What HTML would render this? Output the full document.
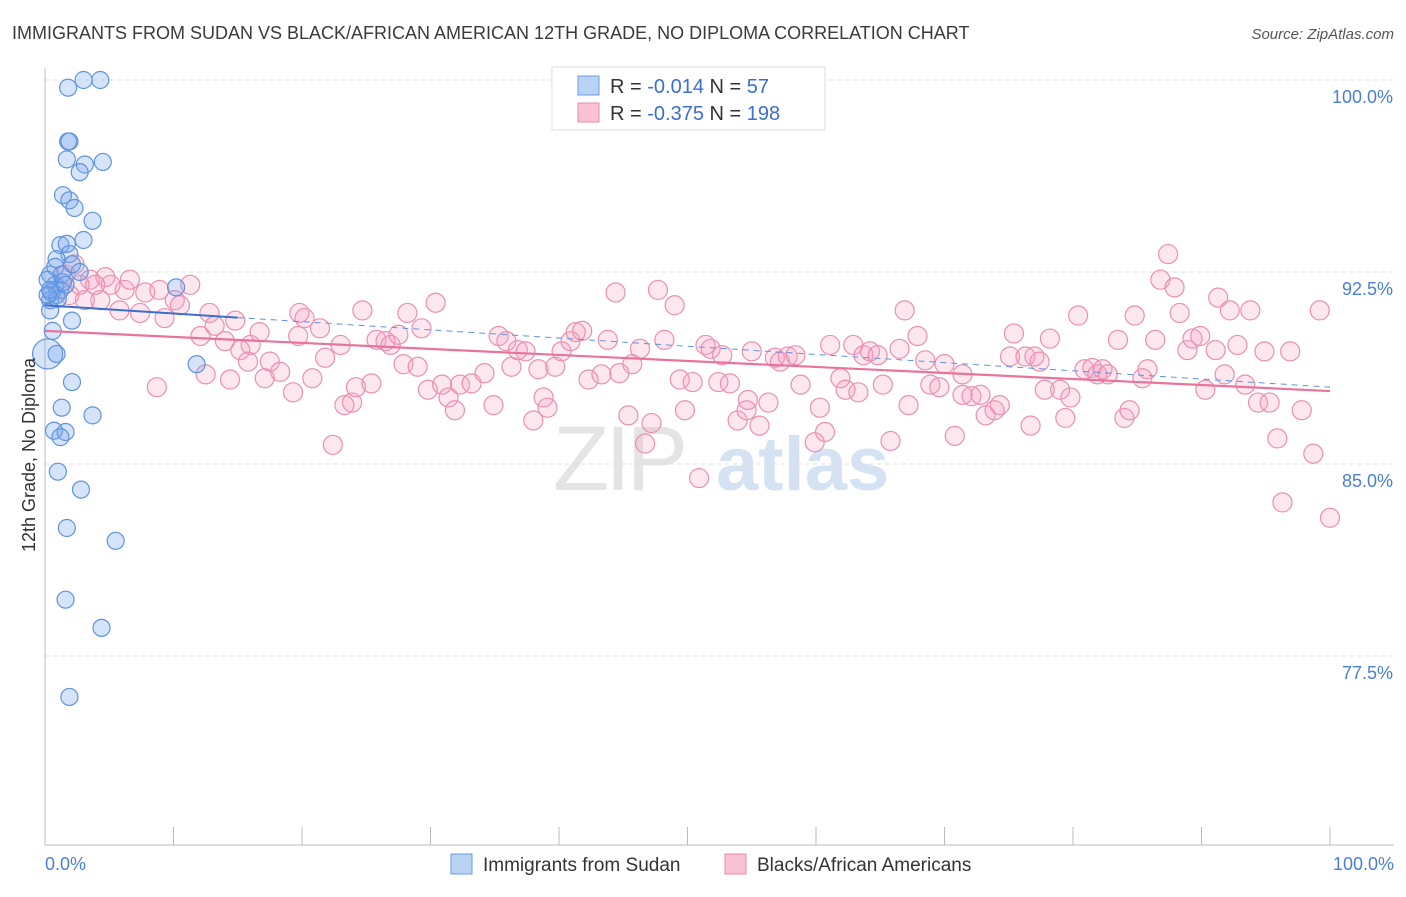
<!DOCTYPE html>
<html><head><meta charset="utf-8"><style>
body{margin:0;background:#fff;font-family:"Liberation Sans",sans-serif;}
svg text{font-family:"Liberation Sans",sans-serif;}
</style></head><body>
<svg id="chart" width="1406" height="892" viewBox="0 0 1406 892" xmlns="http://www.w3.org/2000/svg">
<text x="12" y="39" font-size="18" fill="#3a3a3a">IMMIGRANTS FROM SUDAN VS BLACK/AFRICAN AMERICAN 12TH GRADE, NO DIPLOMA CORRELATION CHART</text>
<text x="1394" y="39" font-size="15" fill="#555" text-anchor="end" font-style="italic">Source: ZipAtlas.com</text>
<g>
<text x="553" y="490" font-size="92" fill="#e4e4e4" font-family="Liberation Serif" letter-spacing="-4">ZIP</text>
<text x="716" y="490" font-size="76" fill="#d4e2f4" font-weight="bold">atlas</text>
</g>
<g id="grid"></g>
<g id="axes"></g>
<g id="marks"></g>
<g>
<rect x="552" y="67" width="273" height="63" fill="#fff" stroke="#ddd"/>
<rect x="578" y="76" width="21" height="19" fill="#b9d3f5" stroke="#6a9be0"/>
<rect x="578" y="103" width="21" height="19" fill="#f9c3d4" stroke="#e889a8"/>
<text x="610" y="93" font-size="20" fill="#333">R = <tspan fill="#3a6fd0">-0.014</tspan>   N =  <tspan fill="#3a6fd0"> 57</tspan></text>
<text x="610" y="120" font-size="20" fill="#333">R = <tspan fill="#3a6fd0">-0.375</tspan>   N = <tspan fill="#3a6fd0">198</tspan></text>
</g>
<text transform="translate(35,455) rotate(-90)" font-size="18" fill="#333" text-anchor="middle">12th Grade, No Diploma</text>
<text x="45" y="870" font-size="18" fill="#4a7fd6">0.0%</text>
<text x="1394" y="870" font-size="18" fill="#4a7fd6" text-anchor="end">100.0%</text>
<g>
<rect x="451" y="854" width="21" height="20" fill="#b9d3f5" stroke="#6a9be0"/>
<text x="483" y="871" font-size="19" fill="#333">Immigrants from Sudan</text>
<rect x="725" y="854" width="21" height="20" fill="#f9c3d4" stroke="#e889a8"/>
<text x="757" y="871" font-size="19" fill="#333">Blacks/African Americans</text>
</g>
</svg>
<script>
const yTicks=[100,92.5,85,77.5];
const yTickLabels=["100.0%","92.5%","85.0%","77.5%"];
const xTicks=[0,10,20,30,40,50,60,70,80,90,100];
const blueX=[1.8,3.0,4.3,1.8,1.9,1.7,3.1,4.5,2.7,1.4,1.9,2.3,3.7,3.0,1.2,1.7,1.9,0.9,2.1,0.4,2.7,0.8,1.2,0.4,0.9,10.2,0.4,2.1,0.6,0.2,0.9,2.1,1.3,3.7,0.7,1.6,1.2,1.0,2.8,1.7,5.5,1.6,4.4,1.9,11.8,0.5,0.2,1.4,1.0,0.2,0.8,1.3,1.6,0.4];
const blueY=[99.7,100,100,97.6,97.6,96.9,96.7,96.8,96.4,95.5,95.3,95.0,94.5,93.75,93.55,93.6,93.2,93.0,92.8,92.4,92.5,92.0,91.8,91.4,91.6,91.9,91.0,90.6,90.2,89.3,89.3,88.2,87.2,86.9,86.3,86.25,86.05,84.7,84.0,82.5,82.0,79.7,78.6,75.9,88.9,91.7,92.2,92.1,91.45,91.6,92.7,92.4,92.0,91.8];
const pinkX=[2.3,3.5,4.7,6.2,5.1,6.6,7.8,8.9,10.1,11.3,10.5,9.3,7.4,5.8,4.3,3.9,3.1,1.9,1.6,2.7,12.8,13.2,14.8,16.7,16.0,15.2,14.0,12.1,12.5,14.4,15.8,17.5,17.1,18.3,19.3,20.8,19.8,20.2,21.4,23.0,21.8,19.7,8.7,24.7,23.3,23.9,24.2,25.4,22.4,25.8,26.5,26.9,27.5,28.2,29.3,30.4,27.9,29.0,29.8,30.9,31.4,31.9,32.3,33.2,34.2,34.9,35.3,35.9,36.3,36.8,37.4,38.0,38.8,39.1,38.4,39.7,40.2,40.9,41.3,41.8,42.3,43.3,43.8,44.4,44.7,45.4,45.7,46.3,46.7,47.2,47.7,48.2,49.0,49.4,49.8,50.4,50.9,51.4,51.8,52.4,52.7,53.3,53.9,54.6,54.7,55.0,55.6,56.3,56.8,57.2,57.8,58.4,58.8,59.9,60.3,60.7,61.1,61.9,62.3,62.9,63.3,63.7,64.2,64.8,65.2,65.8,66.5,67.2,66.9,67.9,68.5,68.9,69.6,70.0,70.8,71.4,72.1,72.8,73.2,73.9,74.3,75.1,75.4,76.3,77.0,77.4,77.8,78.2,79.0,79.4,79.8,80.4,80.9,81.5,81.9,82.3,82.7,83.5,84.0,84.4,84.8,85.4,85.8,86.4,86.8,87.4,87.9,88.3,88.9,89.3,89.9,90.3,91.1,91.3,91.8,92.2,92.8,93.4,93.8,94.4,94.9,95.3,95.9,96.3,96.9,97.8,98.7,99.2,100,76.7,71.4];
const pinkY=[92.8,92.2,92.3,91.8,92.0,92.2,91.7,91.8,91.4,92.0,91.2,90.7,90.9,91.0,91.4,92.0,91.4,91.6,92.4,92.0,90.9,90.4,90.6,90.15,89.65,89.45,89.8,90.0,88.5,88.3,89.0,89.0,88.35,88.6,87.8,88.35,90.9,90.7,90.3,89.65,89.15,90.0,88.0,91.0,87.3,87.4,88.0,88.15,85.75,89.85,89.8,89.65,90.05,90.9,90.3,91.3,88.9,88.8,87.9,88.1,87.6,87.1,88.1,88.15,88.55,87.3,90.0,89.8,88.8,89.45,89.4,86.7,87.6,87.2,88.7,88.8,89.4,89.8,90.15,90.2,88.3,88.5,89.85,91.7,88.55,86.9,88.9,89.5,85.8,86.6,91.8,89.85,91.2,88.3,87.1,88.2,84.45,89.65,89.5,88.2,89.25,88.15,86.7,87.1,87.5,89.4,86.5,87.4,89.15,89.0,89.2,89.25,88.1,85.85,87.2,86.25,89.65,88.35,87.9,89.65,87.8,89.25,89.4,89.25,88.1,85.9,89.5,87.3,91.0,90.0,89.05,88.1,88.0,88.9,86.1,88.5,87.65,87.7,86.9,87.1,87.3,89.2,90.1,89.2,89.2,89.0,87.9,89.9,87.9,86.8,87.6,90.8,88.7,88.75,88.5,88.7,88.5,89.85,86.8,87.1,90.8,88.35,88.7,89.85,92.2,93.2,91.9,90.9,89.45,89.9,90.0,87.9,89.45,91.5,88.5,91.0,89.65,88.1,91.0,87.4,89.4,87.4,86.0,83.5,89.4,87.1,85.4,91.0,82.9,86.5,87.7];
const blueTrend=[91.2,88.0];
const pinkTrend=[90.2,87.85];

const NS="http://www.w3.org/2000/svg";
const X=v=>45+v*12.85;
const Y=v=>80+(100-v)*25.6;
function mk(tag,attrs,parent){const e=document.createElementNS(NS,tag);for(const k in attrs)e.setAttribute(k,attrs[k]);parent.appendChild(e);return e;}
const grid=document.getElementById('grid'),axes=document.getElementById('axes'),marks=document.getElementById('marks');
yTicks.forEach((t,i)=>{
 const l=mk('line',{x1:45,x2:1394,y1:Y(t),y2:Y(t),stroke:'#ddd','stroke-dasharray':'4,4'},grid);
 
 
 const tx=mk('text',{x:1393,y:Y(t)+23,'font-size':18,fill:'#4a7fd6','text-anchor':'end'},axes);
 tx.textContent=yTickLabels[i];
 
 
});
const ya=mk('line',{x1:45,x2:45,y1:68,y2:845,stroke:'#bbb'},axes);


const xa=mk('line',{x1:45,x2:1394,y1:845,y2:845,stroke:'#bbb'},axes);


xTicks.forEach(t=>{
 const l=mk('line',{x1:X(t),x2:X(t),y1:827,y2:845,stroke:'#bbb'},axes);
 
 
});
pinkX.forEach((v,i)=>{
 const c=mk('circle',{cx:X(v),cy:Y(pinkY[i]),r:9.5,fill:'rgba(244,160,190,0.25)',stroke:'#ec8fb0','stroke-width':1.2},marks);
 
 
});
blueX.forEach((v,i)=>{
 const big=(v===0.2&&blueY[i]===89.3);
 const c=mk('circle',{cx:X(v),cy:Y(blueY[i]),r:big?15:8.5,fill:'rgba(120,165,235,0.3)',stroke:'#5f93df','stroke-width':1.2},marks);
 
 
});
const pl=mk('line',{x1:X(0),y1:Y(pinkTrend[0]),x2:X(100),y2:Y(pinkTrend[1]),stroke:'#e8749b','stroke-width':2.2},marks);


const bs=15, bm=blueTrend[0]+(blueTrend[1]-blueTrend[0])*bs/100;
const bl1=mk('line',{x1:X(0),y1:Y(blueTrend[0]),x2:X(bs),y2:Y(bm),stroke:'#3a6fd0','stroke-width':2},marks);


const bl2=mk('line',{x1:X(bs),y1:Y(bm),x2:X(100),y2:Y(blueTrend[1]),stroke:'#5f93df','stroke-width':1,'stroke-dasharray':'6,5'},marks);


</script>
</body></html>
